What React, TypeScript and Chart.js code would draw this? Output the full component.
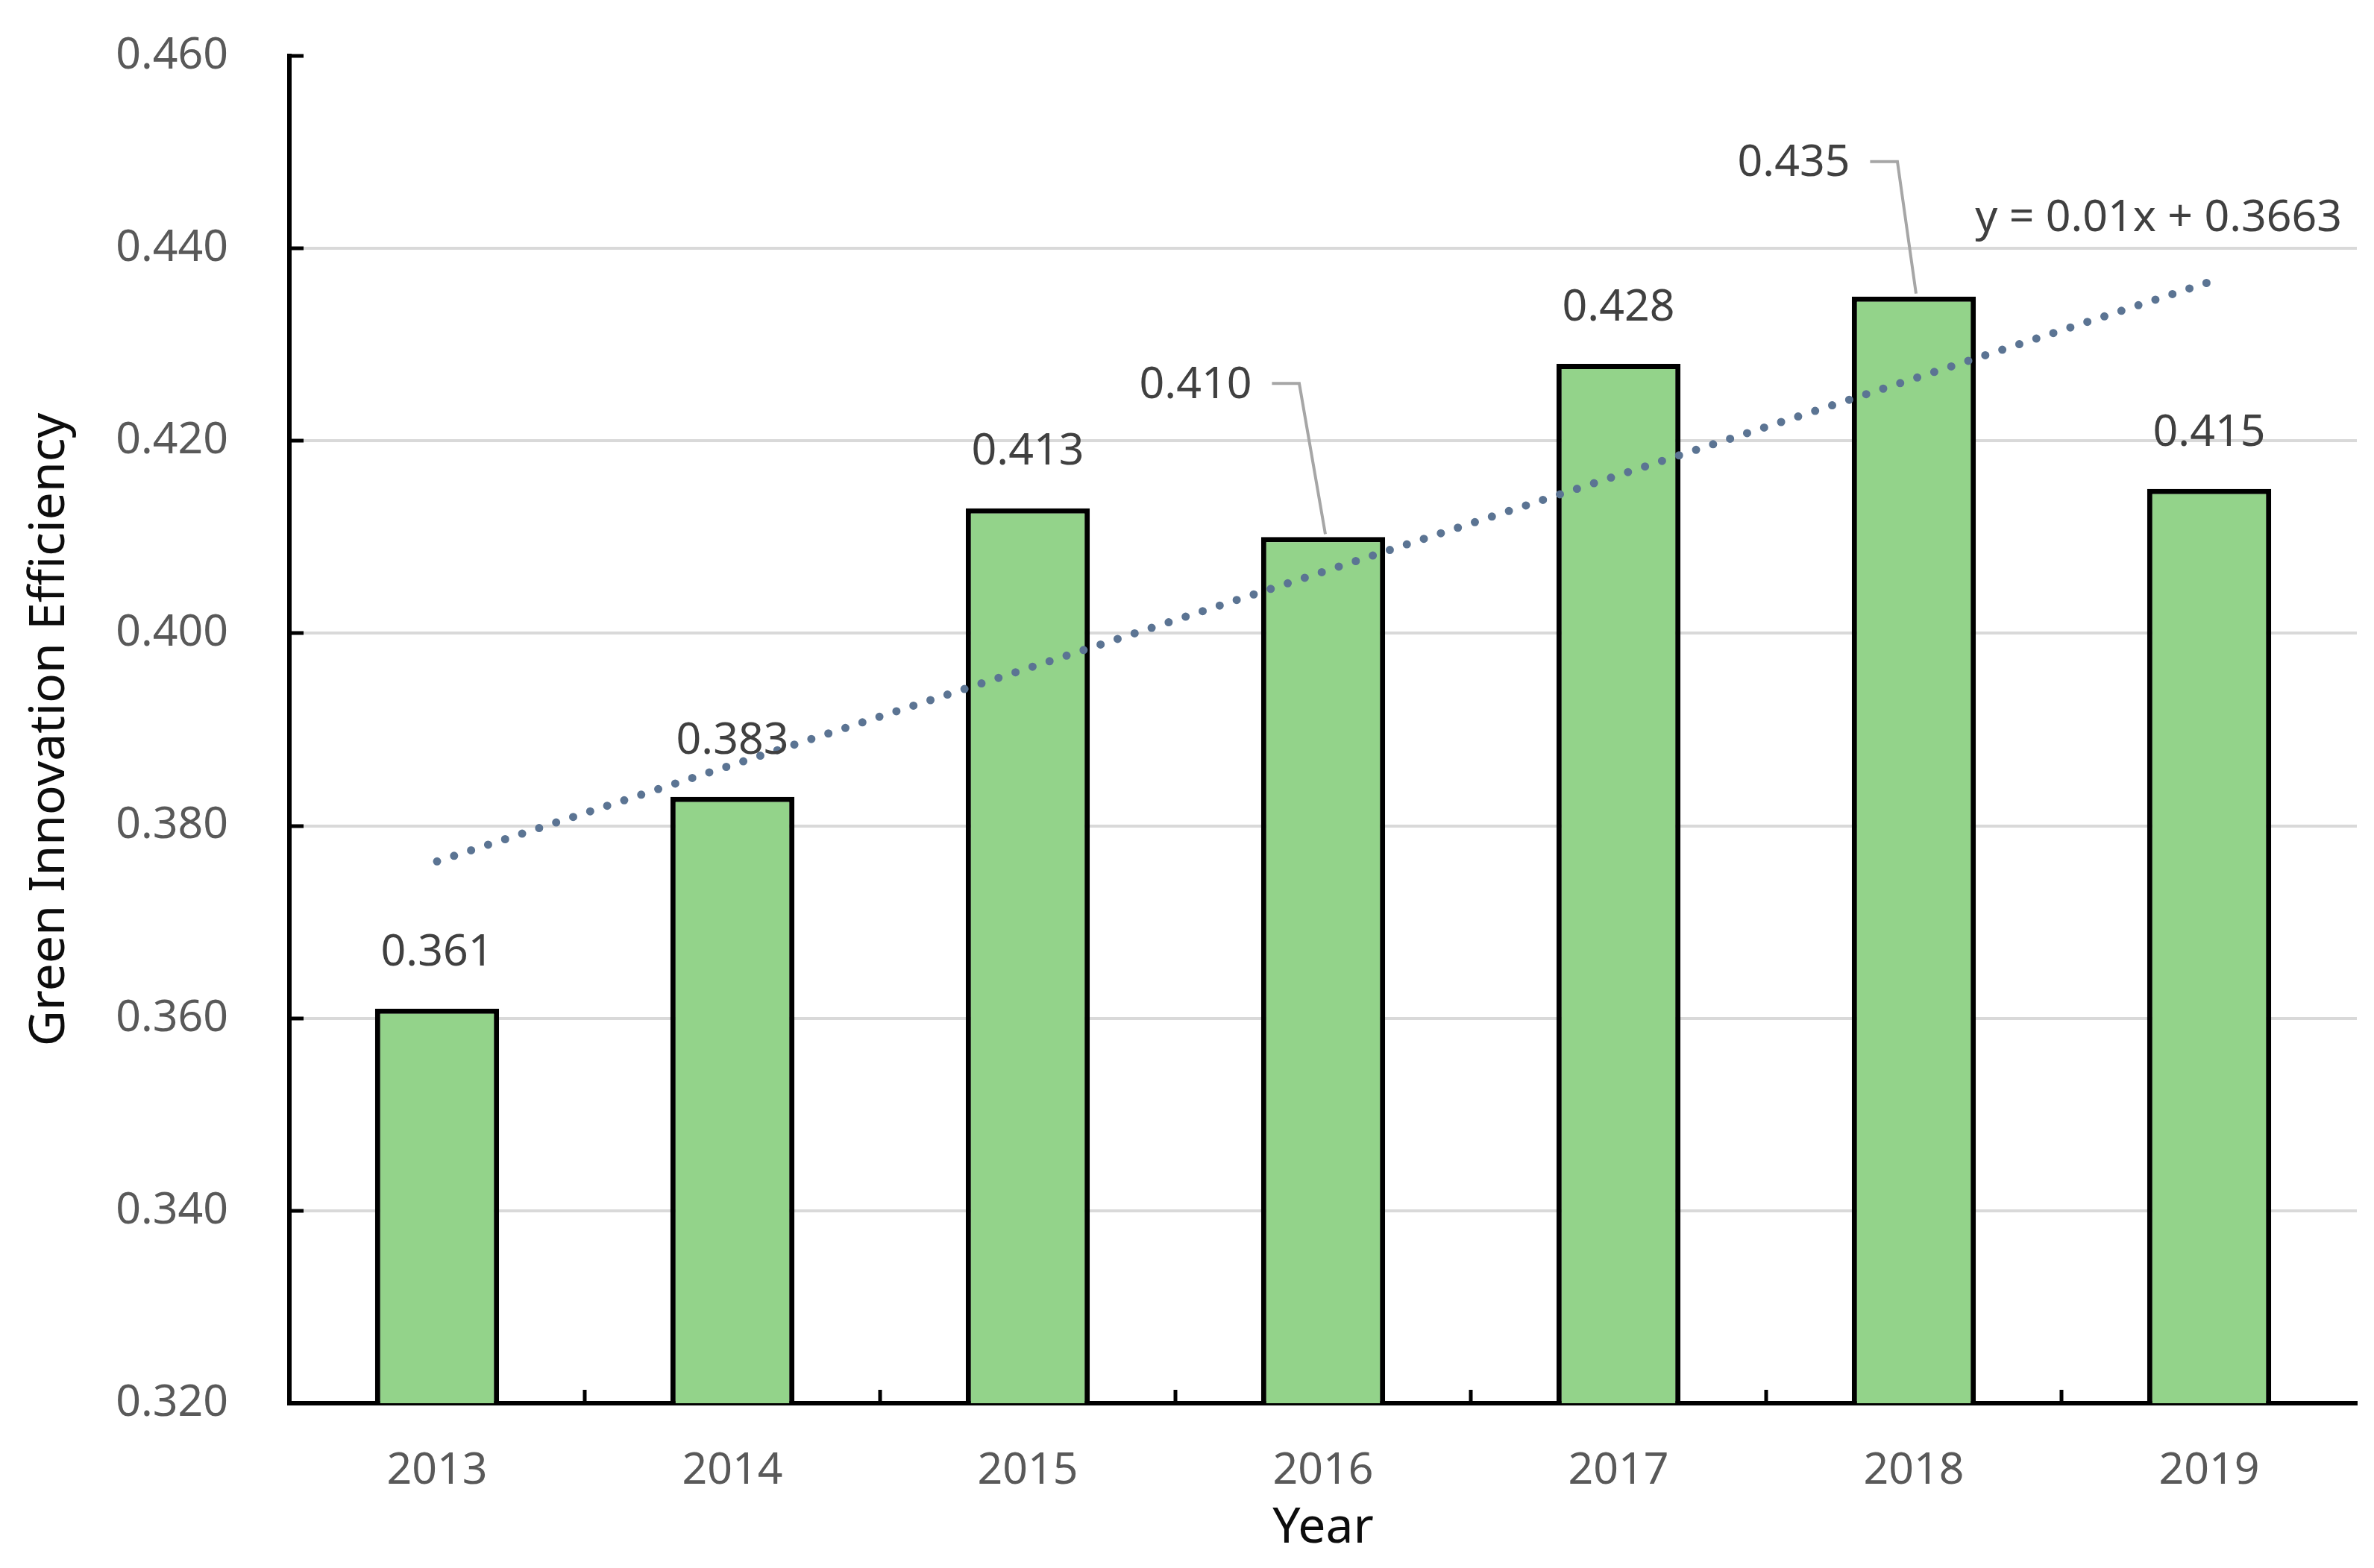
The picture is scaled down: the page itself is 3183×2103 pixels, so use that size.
import React, { useEffect, useRef } from 'react';
import { Chart, registerables } from 'chart.js';

Chart.register(...registerables);

// ---------------- data ----------------
const years = ['2013', '2014', '2015', '2016', '2017', '2018', '2019'];
const efficiency = [0.361, 0.383, 0.413, 0.41, 0.428, 0.435, 0.415];
// linear trend line (Excel fit) read at first and last category
const trendValues = [0.3763, null, null, null, null, null, 0.4365];
const yTickValues = [0.32, 0.34, 0.36, 0.38, 0.4, 0.42, 0.44, 0.46];
const trendEquation = 'y = 0.01x + 0.3663';
const yTitle = 'Green Innovation Efficiency';
const xTitle = 'Year';

// ---------------- style ----------------
const W = 3183;
const H = 2103;
const FONT = '"Noto Sans", "Open Sans", "DejaVu Sans", sans-serif';
const TICK_SIZE = 59;
const TITLE_SIZE = 66;
const TICK_COLOR = '#595959';
const LABEL_COLOR = '#404040';
const TITLE_COLOR = '#0d0d0d';

// label callouts (moved labels with leader lines): offsets in px relative to bar top centre
const callouts: Record<number, { dx: number; dy: number; cornerDx: number }> = {
  3: { dx: -171, dy: -203, cornerDx: -32 },
  5: { dx: -161, dy: -178, cornerDx: -22 },
};

const decorPlugin = {
  id: 'decor',
  afterDatasetsDraw(chart: any) {
    const ctx = chart.ctx as CanvasRenderingContext2D;
    const xS = chart.scales.x;
    const yS = chart.scales.y;
    const area = chart.chartArea;
    ctx.save();

    // inward tick marks
    ctx.strokeStyle = '#000';
    ctx.lineWidth = 5;
    ctx.lineCap = 'butt';
    yTickValues.forEach((v) => {
      if (v <= yS.min) return;
      const py = Math.round(yS.getPixelForValue(v));
      ctx.beginPath();
      ctx.moveTo(area.left, py);
      ctx.lineTo(area.left + 19, py);
      ctx.stroke();
    });
    for (let i = 1; i < years.length; i++) {
      const px = Math.round((xS.getPixelForValue(i - 1) + xS.getPixelForValue(i)) / 2);
      ctx.beginPath();
      ctx.moveTo(px, area.bottom);
      ctx.lineTo(px, area.bottom - 18);
      ctx.stroke();
    }

    // data labels
    ctx.font = `${TICK_SIZE}px ${FONT}`;
    ctx.textBaseline = 'middle';
    ctx.textAlign = 'center';
    efficiency.forEach((v, i) => {
      const bx = xS.getPixelForValue(i);
      const by = yS.getPixelForValue(v);
      const text = v.toFixed(3);
      const c = callouts[i];
      if (c) {
        const cx = bx + c.dx;
        const cy = by + c.dy;
        const tw = ctx.measureText(text).width;
        ctx.strokeStyle = '#a6a6a6';
        ctx.lineWidth = 4;
        ctx.beginPath();
        ctx.moveTo(cx + tw / 2 + 27, cy - 3);
        ctx.lineTo(bx + c.cornerDx, cy - 3);
        ctx.lineTo(bx + 3, by - 4);
        ctx.stroke();
        ctx.fillStyle = LABEL_COLOR;
        ctx.fillText(text, cx, cy);
      } else {
        ctx.fillStyle = LABEL_COLOR;
        ctx.fillText(text, bx, by - 75);
      }
    });

    // trend equation
    ctx.textAlign = 'right';
    ctx.fillStyle = LABEL_COLOR;
    ctx.fillText(trendEquation, 3140, 293);

    // axis titles
    ctx.fillStyle = TITLE_COLOR;
    ctx.font = `${TITLE_SIZE}px ${FONT}`;
    ctx.textAlign = 'center';
    ctx.fillText(xTitle, (area.left + area.right) / 2, 2050);
    ctx.translate(67, (area.top + area.bottom) / 2);
    ctx.rotate(-Math.PI / 2);
    ctx.fillText(yTitle, 0, 0);

    ctx.restore();
  },
};

export default function App() {
  const ref = useRef<HTMLCanvasElement>(null);

  useEffect(() => {
    const canvas = ref.current;
    if (!canvas) return;
    const chart = new Chart(canvas, {
      type: 'bar',
      data: {
        labels: years,
        datasets: [
          {
            type: 'line',
            label: 'Trend',
            data: trendValues as any,
            borderColor: '#5b7493',
            borderWidth: 11,
            borderDash: [0, 24],
            borderCapStyle: 'round',
            pointRadius: 0,
            spanGaps: true,
            fill: false,
            order: 0,
          } as any,
          {
            type: 'bar',
            label: 'Green Innovation Efficiency',
            data: efficiency,
            backgroundColor: '#93d38a',
            borderColor: '#000000',
            borderWidth: 7,
            barPercentage: 0.42,
            categoryPercentage: 1,
            order: 1,
          } as any,
        ],
      },
      options: {
        responsive: false,
        animation: false,
        devicePixelRatio: 1,
        layout: { padding: { top: 75, right: 23, left: 0, bottom: 0 } },
        plugins: {
          legend: { display: false },
          tooltip: { enabled: false },
          title: { display: false },
        },
        scales: {
          x: {
            type: 'category',
            offset: true,
            grid: { display: false, drawTicks: false },
            border: { display: true, color: '#000', width: 6 },
            ticks: {
              color: TICK_COLOR,
              font: { family: FONT, size: TICK_SIZE },
              padding: 56,
              maxRotation: 0,
            },
            afterFit: (scale: any) => {
              scale.height = 221;
              scale.paddingLeft = 0;
              scale.paddingRight = 0;
              scale.paddingTop = 0;
              scale.paddingBottom = 0;
            },
          },
          y: {
            type: 'linear',
            min: 0.32,
            max: 0.46,
            afterBuildTicks: (scale: any) => {
              scale.ticks = yTickValues.map((v) => ({ value: v }));
            },
            grid: {
              drawTicks: false,
              lineWidth: 4,
              color: (c: any) => {
                const v = c.tick ? c.tick.value : null;
                if (v === null || Math.abs(v - 0.46) < 1e-9 || Math.abs(v - 0.32) < 1e-9) return 'rgba(0,0,0,0)';
                return '#d9d9d9';
              },
            },
            border: { display: true, color: '#000', width: 6 },
            ticks: {
              color: TICK_COLOR,
              font: { family: FONT, size: TICK_SIZE },
              padding: 82,
              callback: (v: any) => Number(v).toFixed(3),
            },
            afterFit: (scale: any) => {
              scale.width = 388;
              scale.paddingLeft = 0;
              scale.paddingRight = 0;
              scale.paddingTop = 0;
              scale.paddingBottom = 0;
            },
          },
        },
      },
      plugins: [decorPlugin],
    });
    return () => chart.destroy();
  }, []);

  return (
    <div style={{ position: 'fixed', left: 0, top: 0, width: W, height: H, background: '#fff' }}>
      <canvas ref={ref} width={W} height={H} style={{ display: 'block', width: W, height: H }} />
    </div>
  );
}
